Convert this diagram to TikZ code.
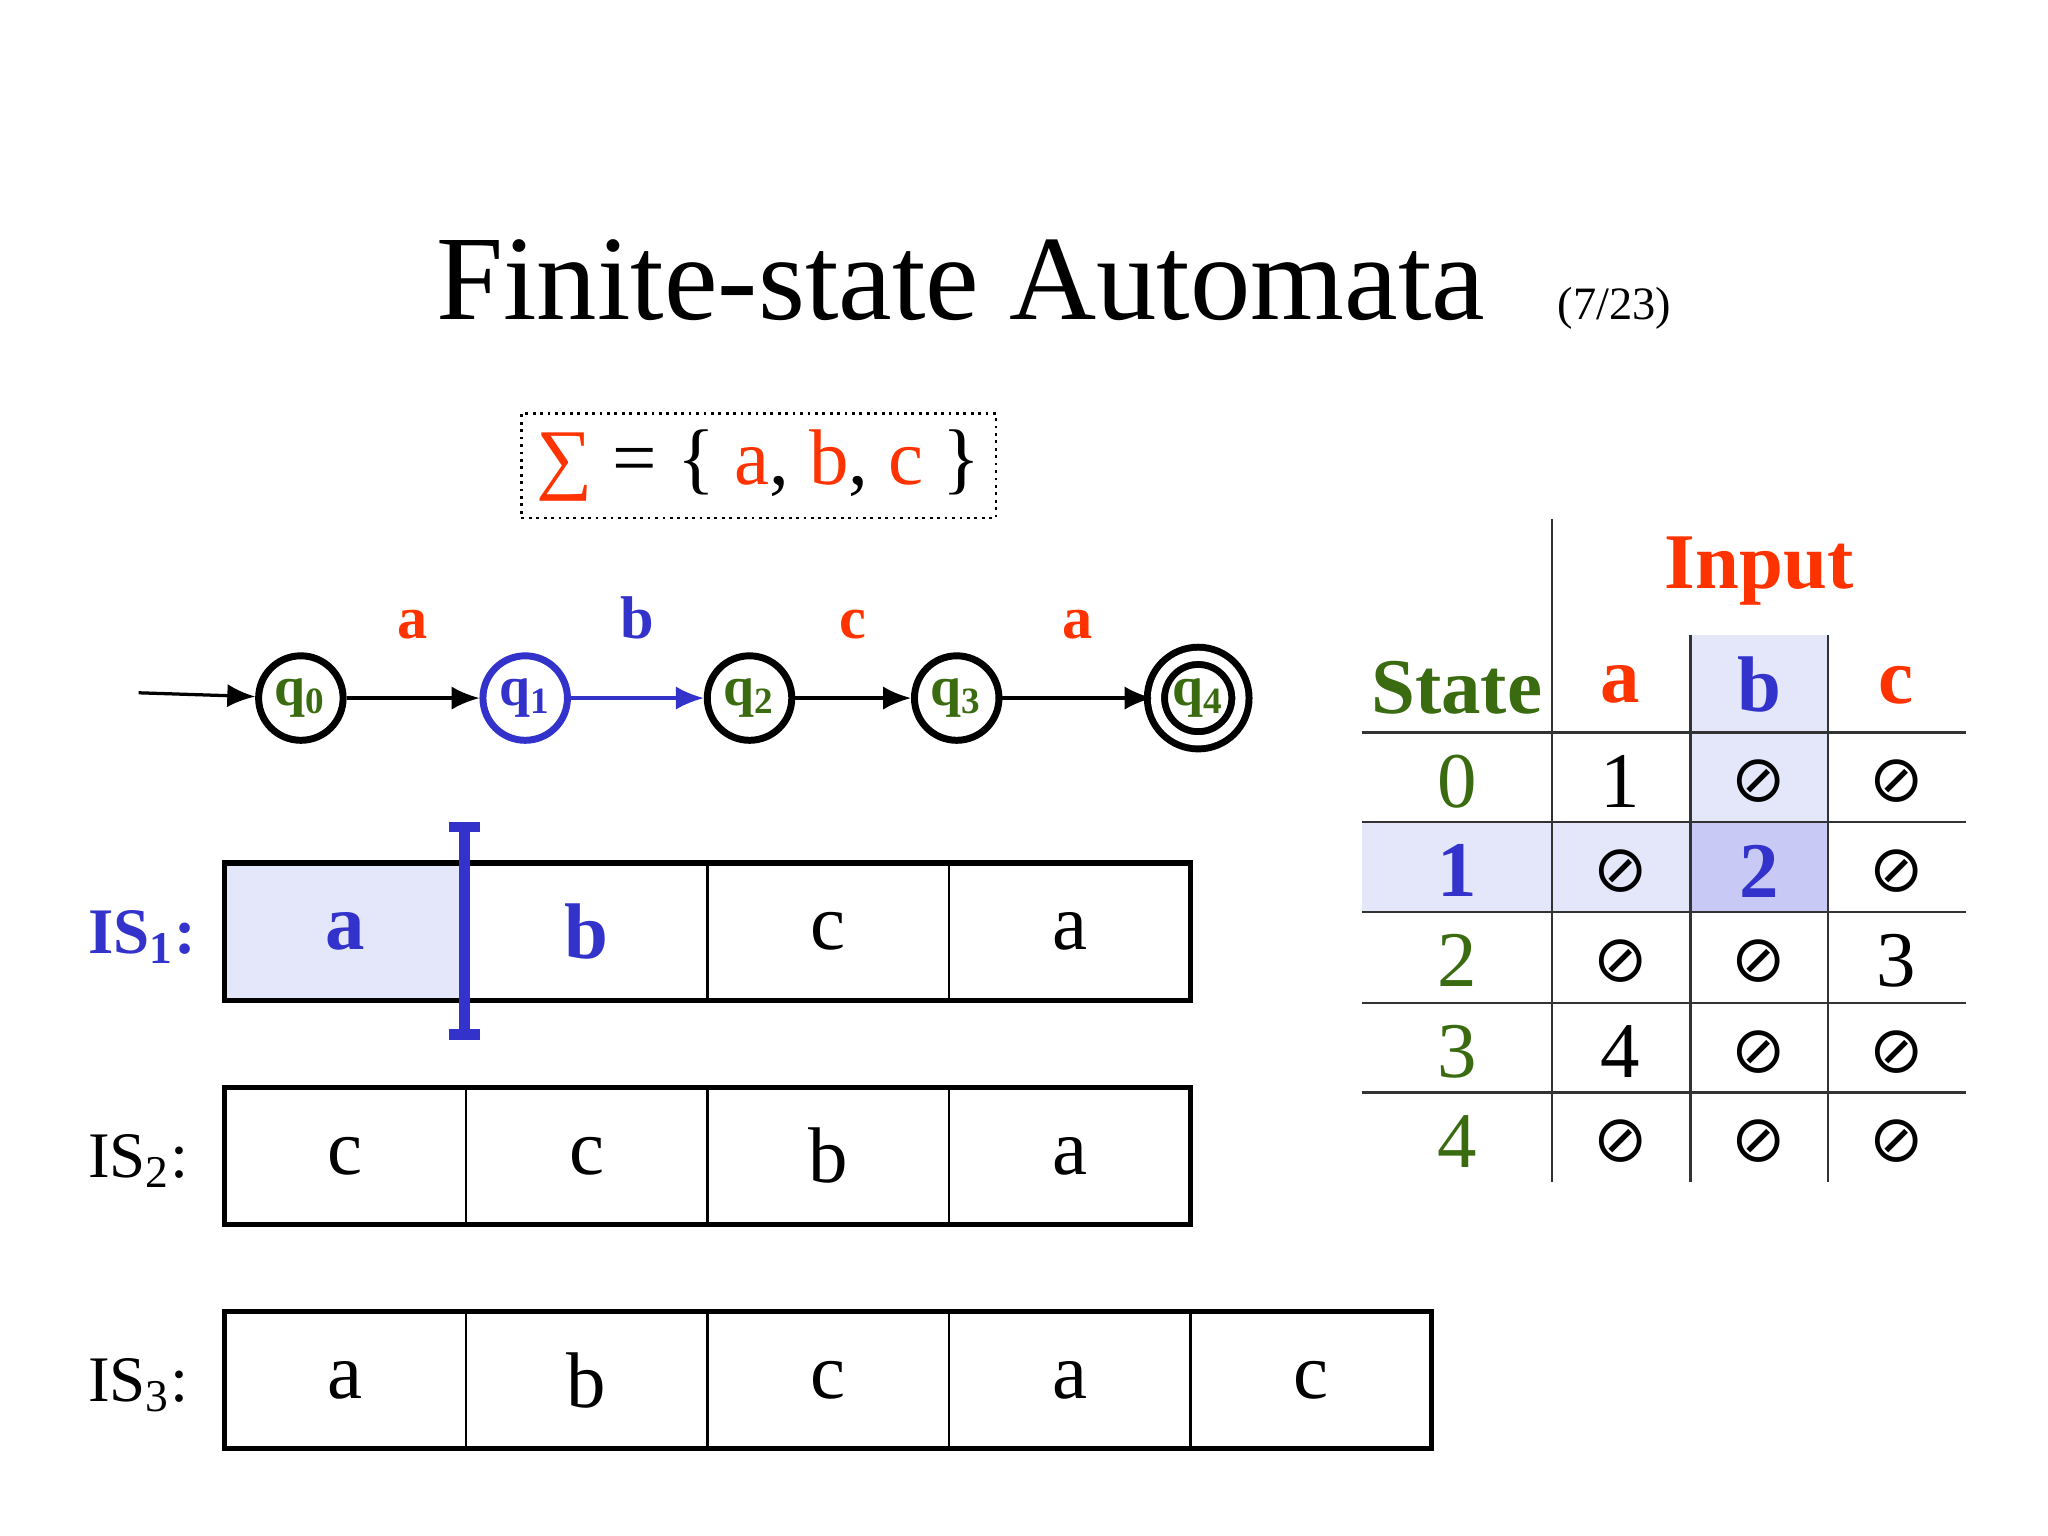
\documentclass[tikz,border=0pt]{standalone}
\usepackage{fontspec}
\setmainfont{Liberation Serif}
\newfontfamily\dejavu{DejaVu Sans}
\usetikzlibrary{arrows.meta}
\definecolor{myred}{HTML}{FF3300}
\definecolor{mygreen}{HTML}{3A6B10}
\definecolor{myblue}{HTML}{3333CC}
\definecolor{lightb}{HTML}{E4E6FA}
\definecolor{darkb}{HTML}{C8CAF5}
\begin{document}
\begin{tikzpicture}[x=0.01cm,y=-0.01cm,
  st/.style={circle,draw,line width=1.5pt,minimum size=0.64cm,inner sep=0pt,text=mygreen,font=\fontsize{12}{12}\selectfont\bfseries},
  acc/.style={st,double,double distance=2.2pt},
  edge/.style={-{Latex[length=6pt,width=5pt]},line width=0.7pt},
  elab/.style={font=\fontsize{13}{13}\selectfont\bfseries},
  cellbox/.style={draw,line width=0.5pt,minimum width=1.83cm,minimum height=1.04cm,inner sep=0pt,font=\fontsize{17}{17}\selectfont},
  islab/.style={font=\fontsize{14}{14}\selectfont},
  tl/.style={line width=0.5pt,black!80},
  th/.style={font=\fontsize{17}{17}\selectfont\bfseries},
  td/.style={font=\fontsize{17}{17}\selectfont},
  es/.style={font=\dejavu\fontsize{14}{14}\selectfont}]
\useasboundingbox (0,0) rectangle (1552,1164);
\node[anchor=base] (title) at (728,242) {\fontsize{26}{26}\selectfont Finite-state Automata};
\node[anchor=base west] (pg) at (1168,242) {\fontsize{10}{10}\selectfont (7/23)};
\node[draw,densely dotted,line width=0.6pt,minimum width=3.4cm,minimum height=0.79cm] (sig) at (575,353)
 {\fontsize{17}{17}\selectfont\textcolor{myred}{∑} = \{ \textcolor{myred}{a}, \textcolor{myred}{b}, \textcolor{myred}{c} \}};
% automaton
\node[st] (q0) at (228,529) {q\textsubscript{0}};
\node[st,draw=myblue,text=myblue] (q1) at (398,529) {q\textsubscript{1}};
\node[st] (q2) at (568,529) {q\textsubscript{2}};
\node[st] (q3) at (725,529) {q\textsubscript{3}};
\node[acc] (q4) at (908,529) {q\textsubscript{4}};
\coordinate (init) at (105,525);
\draw[edge] (init) -- (q0);
\draw[edge] (q0) -- node[elab,text=myred,above=9pt]{a} (q1);
\draw[edge,myblue] (q1) -- node[elab,text=myblue,above=9pt]{b} (q2);
\draw[edge] (q2) -- node[elab,text=myred,above=9pt]{c} (q3);
\draw[edge] (q3) -- node[elab,text=myred,above=9pt]{a} (q4);
% input strings
\node[cellbox,fill=lightb,text=myblue,font=\fontsize{17}{17}\selectfont\bfseries] (a1) at (261.5,706) {a};
\node[cellbox,text=myblue,font=\fontsize{17}{17}\selectfont\bfseries] (a2) at (444.5,706) {b};
\node[cellbox] (a3) at (627.5,706) {c};
\node[cellbox] (a4) at (810.5,706) {a};
\draw[line width=1.1pt] (170,654) rectangle (902,758);
\draw[myblue,line width=2.2pt] (340,627) -- (364,627) (352,627) -- (352,784) (340,784) -- (364,784);
\node[islab,text=myblue,font=\fontsize{14}{14}\selectfont\bfseries] (l1) at (108,710) {IS\textsubscript{1}:};
\node[cellbox] (b1) at (261.5,876) {c};
\node[cellbox] (b2) at (444.5,876) {c};
\node[cellbox] (b3) at (627.5,876) {b};
\node[cellbox] (b4) at (810.5,876) {a};
\draw[line width=1.1pt] (170,824) rectangle (902,928);
\node[islab] (l2) at (105,880) {IS\textsubscript{2}:};
\node[cellbox] (c1) at (261.5,1046) {a};
\node[cellbox] (c2) at (444.5,1046) {b};
\node[cellbox] (c3) at (627.5,1046) {c};
\node[cellbox] (c4) at (810.5,1046) {a};
\node[cellbox] (c5) at (993.5,1046) {c};
\draw[line width=1.1pt] (170,994) rectangle (1085,1098);
\node[islab] (l3) at (105,1050) {IS\textsubscript{3}:};
% table
\fill[lightb] (1281,481) rectangle (1385,623);
\fill[lightb] (1032,623) rectangle (1281,691);
\fill[darkb] (1281,623) rectangle (1385,691);
\draw[tl] (1176,393) -- (1176,896);
\draw[tl] (1281,481) -- (1281,896) (1385,481) -- (1385,896);
\foreach \y in {555,623,691,760,828} \draw[tl] (1032,\y) -- (1490,\y);
\node[th,text=myred] (inp) at (1333,433) {Input};
\node[th,text=mygreen] (sth) at (1104,521) {State};
\node[th,text=myred] (ha) at (1228,519) {a};
\node[th,text=myblue] (hb) at (1333,519) {b};
\node[th,text=myred] (hc) at (1437,519) {c};
\foreach \r/\y in {0/592,2/728,3/797,4/865} \node[td,text=mygreen] at (1104,\y) {\r};
\node[th,text=myblue] at (1104,660) {1};
\node[td] at (1228,592) {1};
\node[td] at (1437,728) {3};
\node[td] at (1228,797) {4};
\node[th,text=myblue] at (1333,660) {2};
\foreach \x/\y in {1333/592,1437/592,1228/660,1437/660,1228/728,1333/728,1333/797,1437/797,1228/865,1333/865,1437/865}
  \node[es] at (\x,\y) {⊘};
\end{tikzpicture}
\end{document}
